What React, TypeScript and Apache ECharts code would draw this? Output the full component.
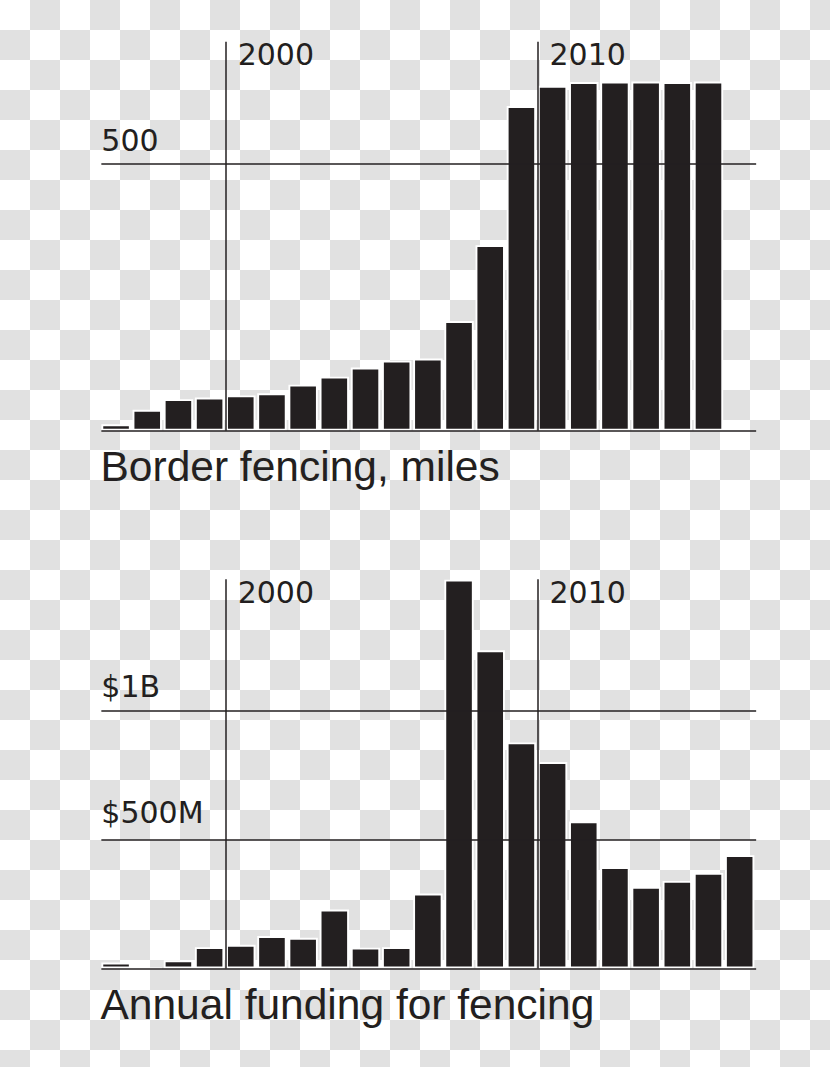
import React, { useEffect, useRef } from 'react';
import * as echarts from 'echarts';

// ---- data ----
const years = ['1996','1997','1998','1999','2000','2001','2002','2003','2004','2005','2006','2007','2008','2009','2010','2011','2012','2013','2014','2015','2016'];
// Border fencing, miles (no value yet for 2016)
const fencingMiles = [12, 39, 59, 62, 66, 70, 86, 101, 118, 131, 135, 205, 347, 607, 645, 652, 653, 653, 652, 653, null];
// Annual funding for fencing, millions of dollars
const fundingMillions = [23, 0, 32, 83, 92, 126, 119, 229, 81, 83, 291, 1510, 1236, 878, 802, 571, 394, 317, 340, 371, 440];
const yearMarks = ['2000', '2010'];
const milesTickValues = [500];
const milesTickLabels = ['500'];
const fundingTickValues = [500, 1000];
const fundingTickLabels = ['$500M', '$1B'];
const titles = ['Border fencing, miles', 'Annual funding for fencing'];

const INK = '#231f20';
const NUM_FONT = 'DejaVu Sans';
const TITLE_FONT = 'Liberation Sans';

export default function App() {
  const ref = useRef<HTMLDivElement>(null);

  useEffect(() => {
    const chart = echarts.init(ref.current as HTMLDivElement, null, { renderer: 'svg' });
    const isMark = (_i: number, v: string) => yearMarks.includes(v);

    const xAxisFor = (gridIndex: number, lh: number) => ({
      type: 'category',
      gridIndex,
      data: years,
      position: 'top',
      boundaryGap: true,
      z: 5,
      axisLine: { show: false },
      axisTick: { show: false },
      axisLabel: {
        inside: true,
        interval: isMark,
        formatter: (v: string) => (yearMarks.includes(v) ? v : ''),
        margin: 0,
        align: 'left',
        verticalAlign: 'top',
        lineHeight: lh,
        padding: [0, 0, 0, -4],
        fontSize: 30,
        fontFamily: NUM_FONT,
        color: INK,
      },
      splitLine: {
        show: true,
        interval: isMark,
        showMaxLine: false,
        lineStyle: { color: INK, width: 1.5 },
      },
    });

    const tokenStyle = (lh: number) => ({ fontSize: 30, fontFamily: NUM_FONT, color: INK, lineHeight: lh });

    const yAxisFor = (
      gridIndex: number,
      max: number,
      values: number[],
      labels: string[],
      heights: number[],
      lineColors: string[],
    ) => ({
      type: 'value',
      gridIndex,
      min: 0,
      max,
      interval: 500,
      z: 5,
      axisLine: { show: false },
      axisTick: { show: false },
      axisLabel: {
        inside: true,
        margin: 0,
        align: 'left',
        verticalAlign: 'bottom',
        formatter: (v: number) => {
          const i = values.indexOf(v);
          return i >= 0 ? `{t${i}|${labels[i]}}` : '';
        },
        rich: Object.fromEntries(heights.map((h, i) => [`t${i}`, tokenStyle(h)])),
      },
      splitLine: {
        show: true,
        showMaxLine: false,
        lineStyle: { color: lineColors, width: 1.5 },
      },
    });

    const barStyle = { color: INK, borderColor: '#ffffff', borderWidth: 1.9 };
    const NONE = 'rgba(0,0,0,0)';

    chart.setOption({
      animation: false,
      backgroundColor: 'transparent',
      title: [
        {
          text: titles[0], left: 100.5, top: 445, padding: 0,
          textStyle: { fontFamily: TITLE_FONT, fontSize: 42.5, lineHeight: 42, fontWeight: 'normal', color: INK },
        },
        {
          text: titles[1], left: 100.5, top: 983.5, padding: 0,
          textStyle: { fontFamily: TITLE_FONT, fontSize: 42.5, lineHeight: 42, fontWeight: 'normal', color: INK },
        },
      ],
      grid: [
        { left: 101.35, top: 41.7, width: 654.8, height: 389, outerBoundsMode: 'none' },
        { left: 101.35, top: 579.3, width: 654.8, height: 389.2, outerBoundsMode: 'none' },
      ],
      xAxis: [xAxisFor(0, 25), xAxisFor(1, 27)],
      yAxis: [
        yAxisFor(0, 727.4, milesTickValues, milesTickLabels, [46], [INK, INK, NONE]),
        yAxisFor(1, 1511.5, fundingTickValues, fundingTickLabels, [54, 49], [INK, INK, INK, NONE, NONE]),
      ],
      series: [
        { type: 'bar', xAxisIndex: 0, yAxisIndex: 0, data: fencingMiles, barWidth: 29.4, barGap: '0%', itemStyle: barStyle, silent: true },
        { type: 'bar', xAxisIndex: 0, yAxisIndex: 0, data: [], barWidth: 1.78, barGap: '0%', silent: true },
        { type: 'bar', xAxisIndex: 1, yAxisIndex: 1, data: fundingMillions, barWidth: 29.4, barGap: '0%', itemStyle: barStyle, silent: true },
        { type: 'bar', xAxisIndex: 1, yAxisIndex: 1, data: [], barWidth: 1.78, barGap: '0%', silent: true },
      ],
    });

    return () => chart.dispose();
  }, []);

  return (
    <div
      style={{
        position: 'absolute',
        left: 0,
        top: 0,
        width: 830,
        height: 1067,
        backgroundColor: '#ffffff',
        backgroundImage: 'conic-gradient(#e1e1e1 0 25%, #ffffff 0 50%, #e1e1e1 0 75%, #ffffff 0)',
        backgroundSize: '60px 60px',
      }}
    >
      <div ref={ref} style={{ width: 830, height: 1067 }} />
    </div>
  );
}
